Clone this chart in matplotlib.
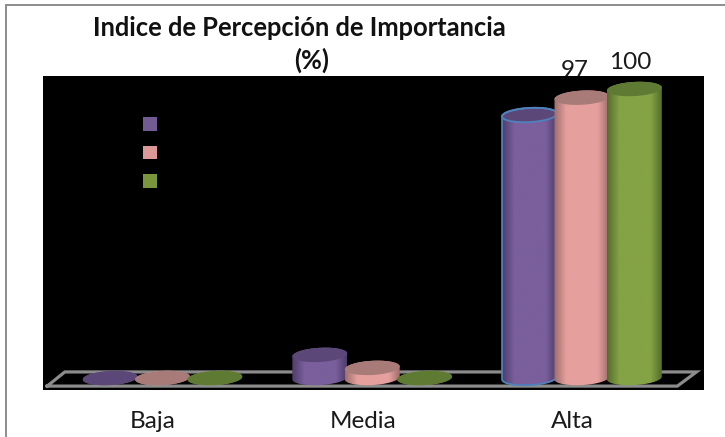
import numpy as np
import matplotlib
matplotlib.use('Agg')
import matplotlib.pyplot as plt
from matplotlib.colors import LinearSegmentedColormap
from matplotlib.patches import Patch, PathPatch, Rectangle
from matplotlib.path import Path

categories = ['Baja', 'Media', 'Alta']
serie_1 = [0, 8, 91]
serie_2 = [0, 3.5, 97]
serie_3 = [0, 0, 100]

edge_colors = ['#4f3d6b', '#a06f6d', '#566e2c']
mid_colors = ['#7a5f9c', '#e5a09e', '#84a345']
top_colors = ['#5c4878', '#a87a78', '#5f7a33']
legend_colors = ['#725a92', '#dc9896', '#7a963c']

W, H = 725, 437
plt.rcParams['font.family'] = ['Lato', 'DejaVu Sans']

fig = plt.figure(figsize=(W / 100, H / 100), dpi=100, facecolor='white')
fig.add_artist(Rectangle((5.5 / W, -0.02), (W + 20) / W, 1.02 - 5.5 / H, transform=fig.transFigure,
                         fill=False, edgecolor='#8c8c8c', linewidth=1.4))

ax = fig.add_axes([43 / W, 1 - 390 / H, 661 / W, 314 / H], facecolor='black')
for s in ax.spines.values():
    s.set_visible(False)

# floor of the 3d box
floor_x = [-0.55, 2.455, 2.546, -0.466, -0.55]
floor_y = [-2.8, -2.8, 2.1, 2.1, -2.8]
ax.plot(floor_x, floor_y, color='#8c8c8c', linewidth=2.3, solid_joinstyle='miter', zorder=1)

bar_step = 0.25
bar_w = 0.262
ell_h = 4.9
tilt = 0.5


def ring(x, value, t):
    # tilted ellipse outline, right side slightly higher
    return (x + np.cos(t) * bar_w / 2,
            value + np.sin(t) * ell_h / 2 + np.cos(t) * tilt)


def cylinder(x, value, i, outline=None):
    xs, ys = ring(x, 0, np.linspace(np.pi, 2 * np.pi, 40))
    xt, yt = ring(x, value, np.linspace(0, np.pi, 40))
    verts = list(zip(xs, ys)) + list(zip(xt, yt))
    clip = PathPatch(Path(verts + verts[:1]), transform=ax.transData, facecolor='none', edgecolor='none')
    ax.add_patch(clip)
    cmap = LinearSegmentedColormap.from_list('c', [(0, edge_colors[i]), (0.22, mid_colors[i]),
                                                   (0.8, mid_colors[i]), (1, edge_colors[i])])
    grad = np.linspace(0, 1, 64).reshape(1, -1)
    im = ax.imshow(grad, cmap=cmap, extent=[x - bar_w / 2, x + bar_w / 2, -ell_h, value + ell_h],
                   aspect='auto', zorder=2 + i * 0.1)
    im.set_clip_path(clip)
    xe, ye = ring(x, value, np.linspace(0, 2 * np.pi, 80))
    top = list(zip(xe, ye))
    ax.add_patch(PathPatch(Path(top), facecolor=top_colors[i], edgecolor='none', zorder=2.01 + i * 0.1))
    if outline:
        ax.add_patch(PathPatch(Path(verts + verts[:1]), fill=False, edgecolor=outline, linewidth=1.3,
                               zorder=2.02 + i * 0.1))
        ax.add_patch(PathPatch(Path(top), fill=False, edgecolor=outline, linewidth=1.3,
                               zorder=2.02 + i * 0.1))


series = [serie_1, serie_2, serie_3]
for c in range(len(categories)):
    for i, vals in enumerate(series):
        x = c + (i - 1) * bar_step
        cylinder(x, vals[c], i, outline='#4f81bd' if (c == 2 and i == 0) else None)

ax.set_xlim(-0.570, 2.582)
ax.set_ylim(-4.15, 104.5)

ax.set_yticks([])
ax.set_xticks(np.arange(len(categories)) - 0.045)
ax.set_xticklabels(categories, fontsize=17.5, color='#1a1a1a')
ax.tick_params(axis='x', length=0, pad=15)

# data labels sit behind the black plot area, so the 97 is cut off
for i, vals in enumerate(series[1:]):
    fig.text(2 - 0.035 + i * 0.265, vals[2] + 9.3, str(vals[2]),
             transform=ax.transData, ha='center', va='center', fontsize=17.5,
             color='#1a1a1a', zorder=-1)

fig.text(299 / W, 1 - 28 / H, 'Indice de Percepción de Importancia', ha='center', va='center',
         fontsize=18.4, fontweight='bold', color='#111111')
fig.text(312 / W, 1 - 60 / H, '(%)', ha='center', va='center',
         fontsize=18.4, fontweight='bold', color='#111111')

handles = [Patch(facecolor=c, edgecolor='none') for c in legend_colors]
ax.legend(handles, ['', '', ''], loc='upper left', bbox_to_anchor=(0.152, 0.870), frameon=False,
          fontsize=10, handlelength=1, handleheight=1.16, labelspacing=1.07, borderpad=0, borderaxespad=0)

fig.savefig('out.png', dpi=100)
